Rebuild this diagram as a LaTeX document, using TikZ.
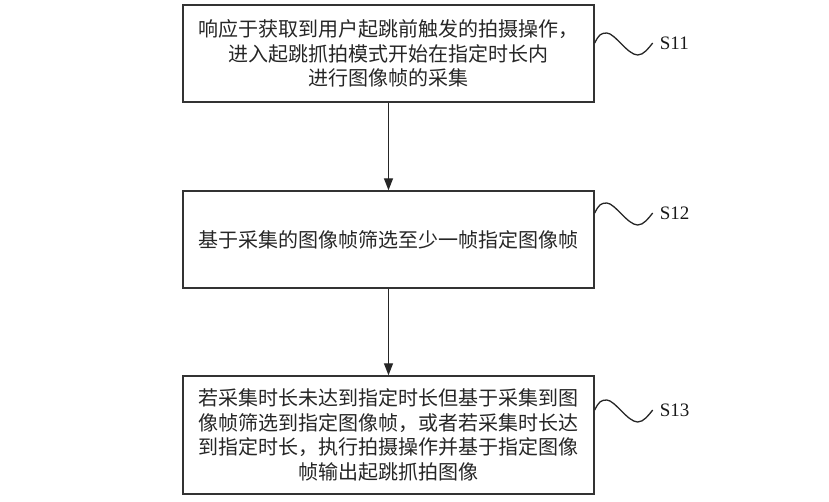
\documentclass[tikz,border=0pt]{standalone}
\usepackage{fontspec}
\setmainfont{Liberation Serif}
\newfontfamily\cjk{Noto Sans CJK SC}
\usetikzlibrary{arrows.meta}
\begin{document}
\begin{tikzpicture}[x=1pt,y=-1pt,
  stepbox/.style={draw=black!80, line width=1.4pt, minimum width=411pt, inner sep=0pt,
    font=\cjk\fontsize{20}{24.5}\selectfont, align=center, text=black!85},
  flow/.style={line width=1.3pt, draw=black!85, -{Triangle[length=12pt,width=9pt]}},
  wave/.style={line width=1.3pt, draw=black!85},
  lbl/.style={font=\fontsize{19}{22}\selectfont, anchor=west, inner sep=0pt, xshift=7pt, text=black!90}]
\useasboundingbox (0,0) rectangle (829,501);

\node[stepbox, minimum height=97pt] (b1) at (388.5,53.5)
  {响应于获取到用户起跳前触发的拍摄操作，\\进入起跳抓拍模式开始在指定时长内\\进行图像帧的采集};
\node[stepbox, minimum height=97pt] (b2) at (388.5,239.5)
  {基于采集的图像帧筛选至少一帧指定图像帧};
\node[stepbox, minimum height=118pt] (b3) at (388.5,435)
  {若采集时长未达到指定时长但基于采集到图\\像帧筛选到指定图像帧，或者若采集时长达\\到指定时长，执行拍摄操作并基于指定图像\\帧输出起跳抓拍图像};

\draw[flow] (b1) -- (b2);
\draw[flow] (b2) -- (b3);

\draw[wave] ([yshift=10.5pt]b1.east) .. controls +(4,-8) and +(-6,0) .. ++(12,-10)
  .. controls +(8,0) and +(-10,0) .. ++(31,22)
  .. controls +(6,0) and +(-4,5) .. ++(15,-12) coordinate (w1);
\node[lbl] (l1) at (w1) {S11};

\draw[wave] ([yshift=26.5pt]b2.east) .. controls +(4,-8) and +(-6,0) .. ++(12,-10)
  .. controls +(8,0) and +(-10,0) .. ++(31,22)
  .. controls +(6,0) and +(-4,5) .. ++(15,-12) coordinate (w2);
\node[lbl] (l2) at (w2) {S12};

\draw[wave] ([yshift=25pt]b3.east) .. controls +(4,-8) and +(-6,0) .. ++(12,-10)
  .. controls +(8,0) and +(-10,0) .. ++(31,22)
  .. controls +(6,0) and +(-4,5) .. ++(15,-12) coordinate (w3);
\node[lbl] (l3) at (w3) {S13};
\end{tikzpicture}
\end{document}
